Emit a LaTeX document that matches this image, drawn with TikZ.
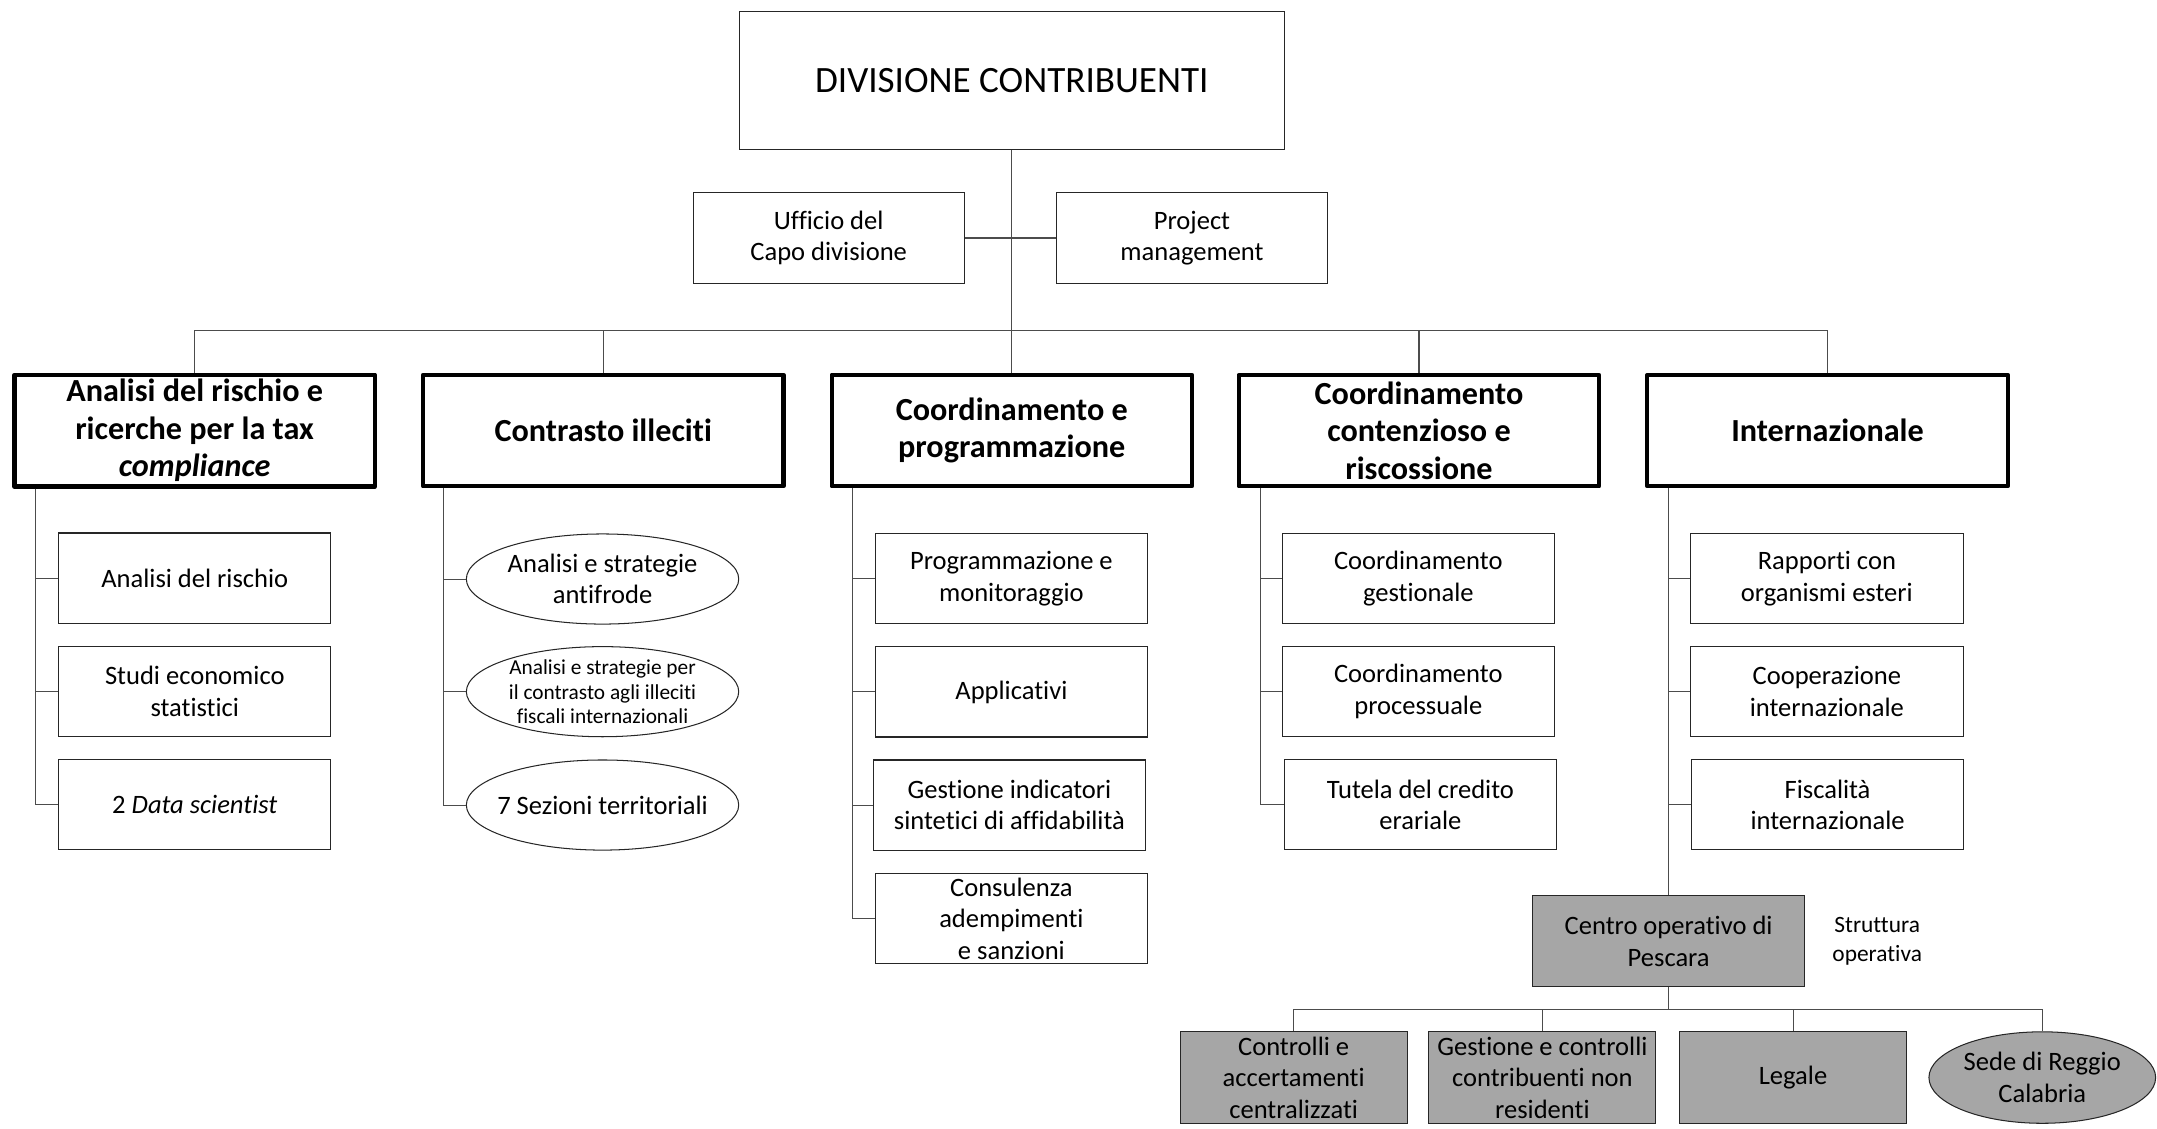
\documentclass[tikz,border=0pt]{standalone}
\usepackage{fontspec}
\setmainfont{Carlito}[Ligatures=NoCommon]
\usetikzlibrary{shapes.geometric}
\definecolor{opgrey}{RGB}{166,166,166}

\begin{document}
\begin{tikzpicture}[x=1pt, y=-1pt,
  line/.style = {draw=black!70, line width=0.75pt},
  division/.style = {rectangle, draw=black!85, line width=0.75pt, minimum width=396pt, minimum height=100pt, font=\fontsize{27}{32}\selectfont},
  staffbox/.style = {rectangle, draw=black!85, line width=0.75pt, minimum width=197pt, minimum height=66pt, align=center, font=\fontsize{19.3}{23}\selectfont},
  areabox/.style = {rectangle, draw, line width=3pt, line join=round, minimum width=262pt, minimum height=81pt, align=center, font=\fontsize{23.4}{27.3}\selectfont\bfseries},
  unitbox/.style = {rectangle, draw=black!85, line width=0.75pt, minimum width=198pt, minimum height=65.5pt, inner sep=1pt, align=center, font=\fontsize{19.3}{23}\selectfont},
  unitoval/.style = {ellipse, draw=black!85, line width=0.75pt, minimum width=198pt, minimum height=65.5pt, inner sep=0pt},
  ovaltext/.style = {align=center, inner sep=0pt, font=\fontsize{19.3}{23}\selectfont},
  opbox/.style = {unitbox, fill=opgrey, minimum width=165pt, minimum height=66.5pt}]
  \useasboundingbox (0, 0) rectangle (1568, 820);

  % Division and staff offices.
  \node at (735.5, 58.4) [division, name=Divisione] {DIVISIONE CONTRIBUENTI};
  \node at (602.4, 173) [staffbox, name=Ufficio] {Ufficio del\\Capo divisione};
  \node at (866.5, 173) [staffbox, name=Project] {Project\\management};

  % Areas.
  \node at (141.5, 313) [areabox, name=AnalisiRischio] {Analisi del rischio e\\ricerche per la tax\\\textit{compliance}};
  \node at (438.5, 313) [areabox, name=Contrasto] {Contrasto illeciti};
  \node at (735.5, 313) [areabox, name=CoordProg] {Coordinamento e\\programmazione};
  \node at (1031.5, 313) [areabox, name=CoordContenzioso] {Coordinamento\\contenzioso e\\riscossione};
  \node at (1328.5, 313) [areabox, name=Internazionale] {Internazionale};

  % Units of Analisi del rischio.
  \node at (141.6, 420.2) [unitbox, name=UnitaRischio] {Analisi del rischio};
  \node at (141.6, 502.6) [unitbox, name=StudiEconomici] {Studi economico\\statistici};
  \node at (141.6, 585) [unitbox, name=DataScientist] {2 \textit{Data scientist}};

  % Units of Contrasto illeciti.
  \node at (438, 420.9) [unitoval, name=Antifrode] {};
  \node at (Antifrode) [ovaltext, name=AntifrodeText] {Analisi e strategie\\antifrode};
  \node at (438, 502.8) [unitoval, name=IlleicitiInt] {};
  \node at (IlleicitiInt) [ovaltext, font=\fontsize{15.5}{17.9}\selectfont, name=IlleicitiIntText] {Analisi e strategie per\\il contrasto agli illeciti\\fiscali internazionali};
  \node at (438, 585.2) [unitoval, name=Sezioni] {};
  \node at (Sezioni) [ovaltext, name=SezioniText] {7 Sezioni territoriali};

  % Units of Coordinamento e programmazione.
  \node at (735.2, 420.4) [unitbox, name=Programmazione] {Programmazione e\\monitoraggio};
  \node at (735.2, 503) [unitbox, name=Applicativi] {Applicativi};
  \node at (733.8, 585.2) [unitbox, name=Indicatori] {Gestione indicatori\\sintetici di affidabilità};
  \node at (735.2, 667.7) [unitbox, name=Consulenza] {Consulenza\\adempimenti\\e sanzioni};

  % Units of Coordinamento contenzioso.
  \node at (1031, 420.4) [unitbox, name=Gestionale] {Coordinamento\\gestionale};
  \node at (1031, 502.8) [unitbox, name=Processuale] {Coordinamento\\processuale};
  \node at (1032.5, 585) [unitbox, name=Tutela] {Tutela del credito\\erariale};

  % Units of Internazionale.
  \node at (1328, 420.4) [unitbox, name=Rapporti] {Rapporti con\\organismi esteri};
  \node at (1328, 502.8) [unitbox, name=Cooperazione] {Cooperazione\\internazionale};
  \node at (1328.5, 585) [unitbox, name=Fiscalita] {Fiscalità\\internazionale};

  % Operational structure.
  \node at (1213, 684.2) [opbox, minimum width=198pt, minimum height=66pt, name=Pescara] {Centro operativo di\\Pescara};
  \node at (1364.6, 684.3) [align=center, font=\fontsize{17}{21.4}\selectfont, name=Struttura] {Struttura\\operativa};
  \node at (940.4, 783.3) [opbox, name=Controlli] {Controlli e\\accertamenti\\centralizzati};
  \node at (1121.2, 783.3) [opbox, name=NonResidenti] {Gestione e controlli\\contribuenti non\\residenti};
  \node at (1303.4, 783.3) [opbox, name=Legale] {Legale};
  \node at (1484.6, 783.3) [unitoval, fill=opgrey, minimum width=164.8pt, minimum height=66.5pt, name=Reggio] {};
  \node at (Reggio) [ovaltext, name=ReggioText] {Sede di Reggio\\Calabria};

  % Bus lines.
  \coordinate (bus) at (735.5, 240);
  \coordinate (opbus) at (1213, 733.5);

  % Division to areas.
  \draw [line] (Divisione.south) to (CoordProg.north);
  \draw [line] (Ufficio.east) to (Project.west);
  \draw [line] (AnalisiRischio.north) |- (bus) -| (Internazionale.north);
  \draw [line] (Contrasto.north) to (Contrasto.north |- bus);
  \draw [line] (CoordContenzioso.north) to (CoordContenzioso.north |- bus);

  % Areas to units.
  \draw [line] ([xshift=17pt]AnalisiRischio.south west) |- (UnitaRischio.west);
  \draw [line] ([xshift=17pt]AnalisiRischio.south west) |- (StudiEconomici.west);
  \draw [line] ([xshift=17pt]AnalisiRischio.south west) |- (DataScientist.west);
  \draw [line] ([xshift=16.5pt]Contrasto.south west) |- (Antifrode.west);
  \draw [line] ([xshift=16.5pt]Contrasto.south west) |- (IlleicitiInt.west);
  \draw [line] ([xshift=16.5pt]Contrasto.south west) |- (Sezioni.west);
  \draw [line] ([xshift=16.5pt]CoordProg.south west) |- (Programmazione.west);
  \draw [line] ([xshift=16.5pt]CoordProg.south west) |- (Applicativi.west);
  \draw [line] ([xshift=16.5pt]CoordProg.south west) |- (Indicatori.west);
  \draw [line] ([xshift=16.5pt]CoordProg.south west) |- (Consulenza.west);
  \draw [line] ([xshift=17pt]CoordContenzioso.south west) |- (Gestionale.west);
  \draw [line] ([xshift=17pt]CoordContenzioso.south west) |- (Processuale.west);
  \draw [line] ([xshift=17pt]CoordContenzioso.south west) |- (Tutela.west);
  \draw [line] (Pescara.north |- Internazionale.south) |- (Rapporti.west);
  \draw [line] (Pescara.north |- Internazionale.south) |- (Cooperazione.west);
  \draw [line] (Pescara.north |- Internazionale.south) |- (Fiscalita.west);
  \draw [line] (Pescara.north |- Internazionale.south) to (Pescara.north);

  % Operational offices.
  \draw [line] (Pescara.south) to (opbus);
  \draw [line] (Controlli.north) |- (opbus) -| (Reggio.north);
  \draw [line] (NonResidenti.north) to (NonResidenti.north |- opbus);
  \draw [line] (Legale.north) to (Legale.north |- opbus);
\end{tikzpicture}
\end{document}
